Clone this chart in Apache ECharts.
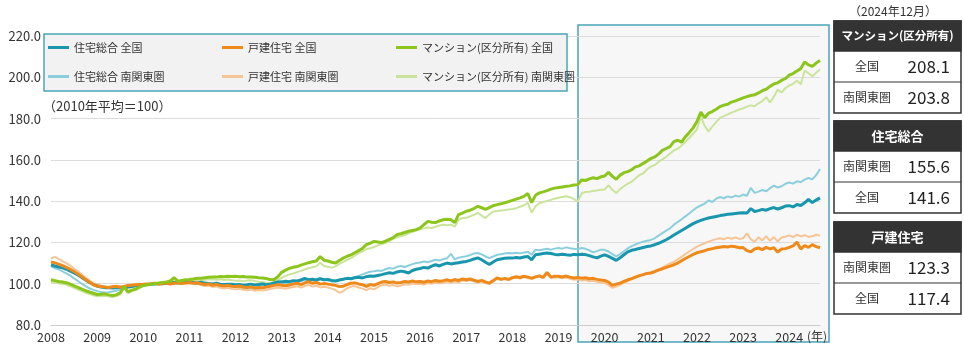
<!DOCTYPE html>
<html><head><meta charset="utf-8">
<script src="https://cdn.jsdelivr.net/npm/echarts@6/dist/echarts.min.js"></script>
<style>html,body{margin:0;padding:0;background:#fff}#c{width:964px;height:359px}</style>
</head><body><div id="c"></div>
<script>
const FONT = '"Noto Sans CJK JP","Noto Sans",sans-serif';

// monthly categories: 2008/4 .. 2024/12
const months = [];
for (let y = 2008; y <= 2024; y++) for (let m = 1; m <= 12; m++) { if (!(y === 2008 && m < 4)) months.push(y + '/' + m); }

const seriesNames = ['住宅総合 全国','戸建住宅 全国','マンション(区分所有) 全国','住宅総合 南関東圏','戸建住宅 南関東圏','マンション(区分所有) 南関東圏'];
const seriesColors = ['#1896ad','#ef8a1a','#8cc51c','#8ccfdc','#f6c596','#cbe49b'];

const hsAll = [
109.2,108.6,108.1,107.7,107.0,106.1,105.2,104.2,103.0,101.8,100.6,99.6,
98.9,98.4,98.1,98.0,97.9,98.1,98.3,98.0,98.4,98.7,99.0,99.2,
99.4,99.6,99.8,99.9,100.1,100.0,100.2,100.3,100.6,100.4,100.5,100.6,
100.8,100.6,100.4,100.7,100.3,100.1,99.9,100.2,99.8,99.6,99.8,99.7,
99.5,99.6,99.3,99.5,99.8,99.4,99.6,99.9,99.5,99.8,100.4,100.8,
100.9,101.2,101.0,101.5,101.3,101.8,102.6,101.9,102.2,101.8,102.4,101.9,
102.1,101.6,101.3,101.8,102.2,102.6,102.4,102.9,103.1,102.8,103.4,103.7,
103.6,104.0,104.4,104.9,105.3,105.0,105.7,106.1,105.8,105.2,106.4,107.0,
107.4,107.9,107.6,108.5,109.2,108.6,109.4,110.0,109.6,109.9,110.2,110.5,
110.8,111.3,112.0,112.5,111.6,110.4,109.3,110.5,111.6,112.0,112.3,112.5,
112.4,112.7,112.5,112.9,113.2,111.6,114.0,114.3,114.6,114.9,114.6,114.2,
114.0,114.3,114.0,113.8,114.2,114.0,114.3,114.1,113.6,113.0,112.5,113.4,
114.0,113.2,112.3,111.3,112.6,114.0,115.4,116.2,116.6,117.1,117.5,118.0,
118.3,118.9,119.6,120.4,121.3,122.4,123.6,124.7,125.8,126.9,128.0,129.1,
130.0,130.7,131.3,131.8,132.2,132.6,133.0,133.3,133.6,133.8,134.0,134.2,
134.4,134.2,136.4,135.0,135.4,136.0,135.6,136.4,136.9,136.2,136.8,137.6,
137.8,137.2,138.4,137.9,139.2,140.8,139.3,140.5,141.6];

const hsSouth = [
108.3,107.6,106.9,106.0,105.0,103.9,102.6,101.3,100.0,98.8,97.8,97.0,
96.4,96.0,95.8,95.9,96.2,96.6,97.1,97.6,98.1,98.6,99.0,99.3,
99.5,99.7,99.9,100.1,100.3,100.0,100.4,100.6,100.2,100.5,100.7,100.4,
100.6,100.3,100.0,100.2,99.7,99.5,99.2,99.4,99.0,98.7,98.9,98.6,
98.4,98.2,98.0,97.7,97.9,97.5,97.7,98.0,98.4,98.9,99.3,99.6,
99.8,100.2,100.6,101.0,100.8,101.4,101.8,102.3,101.6,102.0,102.4,101.8,
101.5,101.1,101.4,101.9,102.3,102.7,102.5,103.3,103.8,104.5,105.2,105.8,
106.0,106.4,106.2,107.0,107.6,107.3,108.2,108.6,108.1,108.8,109.5,110.0,
110.3,110.8,110.4,111.0,111.6,111.2,111.9,112.3,114.5,111.8,112.6,113.0,
113.3,113.9,114.6,114.9,114.2,113.2,112.4,113.2,114.0,114.3,114.6,114.9,
114.8,115.0,114.7,115.1,115.4,114.0,116.5,116.2,116.6,116.9,116.5,117.0,
117.3,117.0,117.6,117.2,116.9,116.8,117.3,116.9,116.2,115.2,115.8,116.5,
116.4,115.6,114.3,113.2,114.4,115.7,117.1,118.2,119.0,119.8,120.3,120.8,
121.2,122.0,123.3,124.5,125.7,126.8,128.6,129.9,131.2,132.6,134.0,135.6,
137.0,137.9,138.8,140.3,139.6,141.2,142.0,141.4,142.3,141.8,142.7,142.2,
143.2,142.6,146.4,144.0,144.6,145.4,144.8,146.3,147.5,146.6,147.2,148.4,
149.0,148.5,149.6,149.2,150.4,151.2,150.6,152.6,155.6];

const dtAll = [
110.6,110.1,109.5,108.8,107.9,107.0,105.9,104.7,103.4,102.0,100.7,99.5,
98.9,98.6,98.4,98.2,98.5,98.8,98.3,98.7,99.1,99.3,99.5,99.6,
99.7,99.9,100.0,100.2,99.8,100.1,100.3,99.9,100.2,100.5,100.1,100.4,
100.6,100.2,100.5,100.0,99.6,99.9,99.3,99.7,99.1,98.9,99.2,98.8,
98.6,98.9,98.4,98.1,98.5,97.9,98.2,98.0,98.4,98.8,99.2,99.5,
99.3,99.0,99.4,99.8,100.2,99.6,100.4,101.0,100.2,100.6,99.8,100.1,
99.8,99.5,99.2,98.6,98.8,99.6,100.2,100.4,99.9,99.5,98.7,99.6,
99.2,100.0,100.8,101.1,100.6,100.9,100.3,100.6,101.1,100.8,101.3,100.9,
101.1,100.7,101.3,101.0,101.6,101.2,101.5,101.9,101.4,102.0,101.6,102.3,
101.9,102.3,101.7,101.1,101.6,100.9,100.3,101.5,102.8,102.2,102.6,102.1,
102.9,103.4,103.0,103.6,103.2,102.7,103.3,103.8,103.1,105.5,103.2,103.6,
103.6,103.3,103.7,103.2,102.8,103.0,102.7,102.9,102.4,102.6,102.1,101.8,
101.6,100.8,99.2,99.8,100.3,101.1,101.9,102.5,103.2,103.9,104.4,105.0,
105.2,105.8,106.6,107.2,107.9,108.5,109.2,110.0,111.1,112.2,113.2,114.2,
115.0,115.5,116.0,116.6,117.0,117.4,117.7,118.0,117.8,118.2,117.9,117.4,
117.5,116.0,115.4,116.8,117.3,116.5,117.6,116.9,117.4,115.3,116.8,117.0,
117.6,118.3,120.2,116.8,118.5,117.6,118.9,118.0,117.4];

const dtSouth = [
112.2,113.0,111.9,111.0,110.0,108.8,107.4,106.0,104.5,103.0,101.6,100.4,
99.6,99.0,98.5,98.2,98.5,98.7,98.1,98.6,99.0,99.2,99.4,99.5,
99.5,99.8,99.9,100.1,99.6,100.0,100.2,99.7,100.1,100.3,99.9,100.2,
100.3,99.8,100.0,99.4,98.9,99.1,98.4,98.7,98.0,97.7,98.0,97.5,
97.3,97.6,97.1,96.8,97.2,96.6,96.9,96.7,97.0,97.4,97.8,98.1,
97.9,97.6,98.0,98.4,98.8,98.1,98.9,99.5,98.6,99.0,98.2,98.5,
98.2,97.6,96.9,95.6,96.4,97.8,98.6,98.9,98.2,97.6,96.9,97.8,
97.3,98.4,99.3,99.6,99.0,99.4,98.7,99.1,99.7,99.5,100.1,99.8,
100.0,99.6,100.3,100.0,100.6,100.2,100.5,101.0,100.4,101.1,100.7,101.5,
101.3,101.8,101.2,100.5,101.0,100.2,99.8,101.1,102.4,101.8,102.3,101.7,
102.6,103.0,102.5,103.2,102.8,102.2,103.0,103.5,102.7,104.8,102.8,103.1,
103.0,102.6,103.0,102.4,101.9,102.1,101.6,101.8,101.2,101.4,100.9,100.6,
100.4,99.3,98.0,98.6,99.5,100.4,101.3,102.1,102.9,103.6,104.4,105.1,
105.4,106.2,107.1,107.9,108.9,109.8,110.6,111.8,113.0,114.4,115.6,116.8,
118.0,118.8,119.6,120.4,121.0,121.6,122.0,121.5,122.3,121.8,122.4,121.7,
122.0,124.4,121.6,120.3,122.5,121.0,123.0,120.8,122.6,120.5,122.4,122.8,
123.4,122.6,123.8,122.9,123.5,122.7,123.0,123.7,123.3];

const mnAll = [
101.9,101.5,101.1,100.8,100.5,99.8,99.0,98.2,97.4,96.6,96.0,95.4,
94.8,94.9,95.1,94.6,94.3,94.6,95.6,98.6,96.0,96.9,97.4,98.4,
99.2,99.5,99.8,100.1,100.3,100.6,100.9,101.3,103.0,101.2,101.6,101.9,
102.0,102.3,102.6,102.7,102.9,103.1,103.3,103.2,103.5,103.4,103.6,103.5,
103.6,103.4,103.5,103.2,103.3,103.1,102.9,102.8,102.5,102.0,101.9,103.4,
105.5,106.6,107.4,108.0,108.3,109.0,109.6,110.2,110.6,111.0,113.2,111.4,
111.0,110.4,110.0,111.2,112.4,113.3,114.0,115.0,116.0,117.1,118.9,119.6,
120.5,120.2,119.9,120.6,121.5,122.3,123.8,124.2,124.8,125.4,125.8,126.2,
127.0,128.6,130.2,129.8,129.6,130.4,131.0,131.2,131.0,129.6,133.5,134.2,
135.1,135.6,136.4,137.5,136.8,136.0,136.9,137.8,138.3,138.7,139.2,139.8,
140.4,141.0,141.6,142.3,143.7,139.3,142.8,144.0,144.5,145.1,145.8,146.3,
146.6,146.9,147.2,147.4,147.8,148.0,150.2,150.0,150.8,151.3,150.9,151.8,
152.2,154.0,152.0,150.6,152.6,153.8,154.3,155.2,156.6,157.1,158.3,159.4,
160.6,161.4,162.8,164.6,165.5,166.4,168.8,169.5,168.6,171.2,173.3,175.5,
178.6,183.2,180.4,182.6,183.4,184.5,185.8,186.5,186.9,188.0,188.6,189.3,
190.0,190.6,191.2,191.5,192.4,193.5,194.2,195.6,196.8,197.3,198.5,199.4,
201.0,201.8,203.0,204.2,207.4,206.0,205.3,206.9,208.1];

const mnSouth = [
101.0,100.6,100.2,99.9,99.5,98.8,98.0,97.2,96.4,95.6,95.0,94.4,
93.9,94.0,94.2,93.8,93.6,94.0,94.9,97.8,95.4,96.3,96.9,97.9,
98.8,99.1,99.4,99.7,100.0,100.2,100.5,100.9,102.2,100.8,101.1,101.4,
101.3,101.5,101.8,101.6,101.9,102.0,102.2,101.9,102.1,101.8,102.0,101.7,
101.4,101.6,101.2,101.5,101.7,101.3,101.0,100.8,100.5,100.3,100.6,101.8,
102.8,103.8,104.5,105.0,105.6,106.2,106.9,107.5,108.0,108.4,110.2,108.6,
108.2,107.8,108.4,109.6,110.6,111.5,112.4,113.6,114.8,115.7,116.8,117.2,
117.8,118.6,119.2,119.8,120.6,121.8,122.6,123.0,123.6,124.4,125.2,125.8,
126.4,126.8,127.2,127.0,127.6,128.2,128.6,128.3,128.6,127.6,131.0,131.8,
131.9,132.6,133.4,134.3,133.0,131.8,133.6,135.0,135.2,135.5,135.7,136.0,
136.2,136.6,137.3,138.0,139.2,134.4,137.5,139.0,139.6,140.1,140.6,141.2,
141.6,142.0,142.4,141.9,141.0,139.8,143.8,144.4,144.6,144.9,145.2,145.5,
145.6,147.8,145.5,143.9,145.8,147.2,148.5,149.4,151.0,152.6,153.4,155.3,
156.8,157.5,159.0,160.2,161.4,163.1,164.6,165.4,167.0,168.8,170.6,172.6,
174.8,181.0,176.5,173.6,176.2,178.3,180.4,181.2,182.0,182.9,183.6,184.4,
185.0,185.8,186.4,186.0,187.4,188.5,190.4,187.8,190.6,194.0,192.6,194.8,
196.0,196.8,198.4,196.6,203.2,202.0,200.5,202.2,203.8];

const seriesData = [hsAll, dtAll, mnAll, hsSouth, dtSouth, mnSouth];

// right-hand tables
const tableNote = '（2024年12月）';
const tableTitles = ['マンション(区分所有)', '住宅総合', '戸建住宅'];
const tableLabels = [['全国','南関東圏'], ['南関東圏','全国'], ['南関東圏','全国']];
const tableValues = [['208.1','203.8'], ['155.6','141.6'], ['123.3','117.4']];

const yTicks = [80, 100, 120, 140, 160, 180, 200, 220];

function buildTables() {
  const els = [];
  const x0 = 834, w = 127, hh = 30, rh = 31;
  const tops = [21, 121, 222];
  els.push({type:'text', style:{text: tableNote, x: 893, y: 11, align:'center', verticalAlign:'middle', fill:'#333', font: '12px ' + FONT}});
  tableTitles.forEach((t, i) => {
    const top = tops[i];
    els.push({type:'rect', shape:{x:x0, y:top, width:w, height:hh + 2*rh}, style:{fill:'#fff', stroke:'#333', lineWidth:1.5}});
    els.push({type:'rect', shape:{x:x0, y:top, width:w, height:hh}, style:{fill:'#333', stroke:'#333', lineWidth:1.5}});
    els.push({type:'text', style:{text:t, x:x0 + w/2, y:top + hh/2, align:'center', verticalAlign:'middle', fill:'#fff', font: 'bold ' + (i === 0 ? 11.5 : 13) + 'px ' + FONT}});
    els.push({type:'line', shape:{x1:x0, y1:top + hh + rh, x2:x0 + w, y2:top + hh + rh}, style:{stroke:'#333', lineWidth:1.2}});
    for (let r = 0; r < 2; r++) {
      const cy = top + hh + rh*r + rh/2;
      els.push({type:'text', style:{text: tableLabels[i][r], x: 867, y: cy, align:'center', verticalAlign:'middle', fill:'#333', font: '12px ' + FONT}});
      els.push({type:'text', style:{text: tableValues[i][r], x: 950, y: cy, align:'right', verticalAlign:'middle', fill:'#222', font: '17px ' + FONT}});
    }
  });
  return els;
}

const legendCols = [48, 222, 396];
const legendRows = [42, 71];

const chart = echarts.init(document.getElementById('c'));
chart.setOption({
  animation: false,
  textStyle: {fontFamily: FONT},
  grid: {left: 51, right: 144, top: 36, bottom: 34, containLabel: false},
  legend: seriesNames.map((n, i) => ({
    data: [n], left: legendCols[i % 3], top: legendRows[Math.floor(i / 3)],
    icon: 'rect', itemWidth: 21, itemHeight: 3, padding: 0, itemGap: 0,
    selectedMode: false, z: 10,
    textStyle: {fontSize: 11, color: '#333', fontFamily: FONT}
  })),
  xAxis: {
    type: 'category', data: months, boundaryGap: false,
    axisLine: {lineStyle: {color: '#cccccc'}},
    axisTick: {show: false},
    axisLabel: {interval: 11, hideOverlap: false, color: '#333', fontSize: 12.5, fontFamily: FONT, margin: 6,
      formatter: v => v.split('/')[0]},
    splitLine: {show: false}
  },
  yAxis: {
    type: 'value', min: yTicks[0], max: yTicks[yTicks.length - 1], interval: 20,
    axisLine: {show: false}, axisTick: {show: false},
    axisLabel: {color: '#333', fontSize: 13, fontFamily: FONT, margin: 10, formatter: v => v.toFixed(1)},
    splitLine: {lineStyle: {color: '#dcdcdc'}}
  },
  graphic: [
    {type:'rect', z: -1, shape:{x:578, y:25, width:251, height:317}, style:{fill:'#f7f7f7', stroke:'#4aa5b8', lineWidth:1.5}},
    {type:'rect', z: 5, shape:{x:44, y:34, width:523, height:57}, style:{fill:'#f2f2f2', stroke:'#4aa5b8', lineWidth:1.5}},
    {type:'text', z: 5, style:{text:'（2010年平均＝100）', x:43, y:106, verticalAlign:'middle', fill:'#333', font:'13px ' + FONT}},
    {type:'text', z: 5, style:{text:'(年)', x:807, y:336, verticalAlign:'middle', fill:'#333', font:'12px ' + FONT}},
    ...buildTables()
  ],
  series: seriesNames.map((n, i) => ({
    name: n, type: 'line', data: seriesData[i], symbol: 'none', smooth: false,
    z: i < 3 ? 4 : 3,
    color: seriesColors[i],
    lineStyle: {color: seriesColors[i], width: i < 3 ? 3 : 2},
    emphasis: {disabled: true}
  }))
});
</script></body></html>
